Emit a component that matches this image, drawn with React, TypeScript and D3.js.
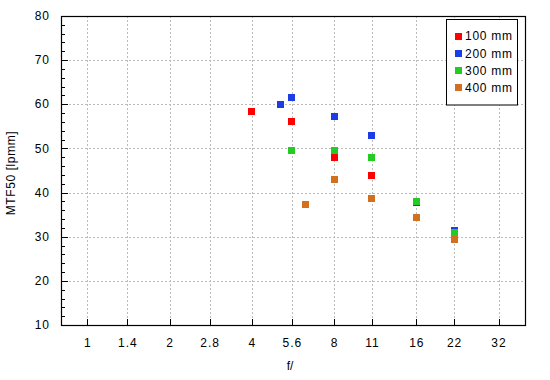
import React from "react";
import * as d3 from "d3";

const xTickValues = [1, 1.4, 2, 2.8, 4, 5.6, 8, 11, 16, 22, 32];
const xTickLabels = ["1", "1.4", "2", "2.8", "4", "5.6", "8", "11", "16", "22", "32"];
const yTicks = [10, 20, 30, 40, 50, 60, 70, 80];

const seriesNames = ["100 mm", "200 mm", "300 mm", "400 mm"];
const seriesColors = ["#ff0000", "#1a3de6", "#22cc22", "#d2701e"];

const apert100 = [4, 5.6, 8, 11];
const mtf100 = [58.4, 56.1, 48.0, 43.9];
const apert200 = [5.1, 5.6, 8, 11, 16, 22];
const mtf200 = [60.0, 61.6, 57.3, 53.0, 37.8, 31.4];
const apert300 = [5.6, 8, 11, 16, 22];
const mtf300 = [49.6, 49.6, 48.0, 38.0, 30.9];
const apert400 = [6.3, 8, 11, 16, 22];
const mtf400 = [37.3, 43.0, 38.7, 34.4, 29.4];

const series = [
  { x: apert100, y: mtf100 },
  { x: apert200, y: mtf200 },
  { x: apert300, y: mtf300 },
  { x: apert400, y: mtf400 },
];

const W = 550;
const H = 380;
const left = 61;
const right = 525;
const top = 16;
const bottom = 325;

export default function App() {
  const x = d3.scaleLog().domain([0.8, 40]).range([left, right]);
  const y = d3.scaleLinear().domain([10, 80]).range([bottom, top]);
  const minor = d3.range(10, 80.001, 2);
  const font = "'Liberation Sans', Arial, sans-serif";
  const sq = 7;
  return (
    <svg width={W} height={H} style={{ position: "absolute", left: 0, top: 0, background: "#fff" }}>
      <rect x={0} y={0} width={W} height={H} fill="#fff" />
      {/* grid */}
      {xTickValues.map((v, i) => (
        <line key={"gx" + i} x1={Math.round(x(v)) + 0.5} x2={Math.round(x(v)) + 0.5} y1={top} y2={bottom}
          stroke="#bbbbbb" strokeDasharray="2,2" />
      ))}
      {yTicks.slice(1, -1).map((v, i) => (
        <line key={"gy" + i} x1={left} x2={right} y1={Math.round(y(v)) + 0.5} y2={Math.round(y(v)) + 0.5}
          stroke="#bbbbbb" strokeDasharray="2,2" />
      ))}
      {/* points */}
      {series.map((s, si) =>
        s.x.map((xv, i) => (
          <rect key={`p${si}-${i}`} x={Math.round(x(xv) - sq / 2)} y={Math.round(y(s.y[i]) - sq / 2)}
            width={sq} height={sq} fill={seriesColors[si]} />
        ))
      )}
      {/* frame */}
      <rect x={left + 0.5} y={top + 0.5} width={right - left} height={bottom - top} fill="none" stroke="#000" strokeWidth={1.2} />
      {/* y ticks */}
      {minor.map((v, i) => {
        const major = Math.abs(v % 10) < 1e-6;
        const yy = Math.round(y(v)) + 0.5;
        return <line key={"yt" + i} x1={left} x2={left + (major ? 7 : 4)} y1={yy} y2={yy} stroke="#000" />;
      })}
      {yTicks.map((v, i) => (
        <text key={"yl" + i} x={50} y={y(v)} dy="0.35em" textAnchor="end" fontFamily={font} fontSize={12}
          letterSpacing={1} fill="#000">
          {v}
        </text>
      ))}
      {/* x ticks */}
      {xTickValues.map((v, i) => {
        const xx = Math.round(x(v)) + 0.5;
        return (
          <g key={"xt" + i}>
            <line x1={xx} x2={xx} y1={bottom} y2={bottom - 6} stroke="#000" />
            <text x={x(v) + 0.5} y={347} textAnchor="middle" fontFamily={font} fontSize={12} letterSpacing={1} fill="#000">
              {xTickLabels[i]}
            </text>
          </g>
        );
      })}
      {/* axis titles */}
      <text x={290} y={370} textAnchor="middle" fontFamily={font} fontSize={12} fill="#000">f/</text>
      <text transform={`translate(15, 173) rotate(-90)`} textAnchor="middle" fontFamily={font} fontSize={12}
        letterSpacing={0.6} fill="#000">
        MTF50 [lpmm]
      </text>
      {/* legend */}
      <rect x={446.5} y={19.5} width={71} height={85.5} fill="#fff" stroke="#000" />
      {seriesNames.map((n, i) => {
        const cy = 36 + i * 17.3;
        return (
          <g key={"lg" + i}>
            <rect x={455} y={Math.round(cy - 3.5)} width={7} height={7} fill={seriesColors[i]} />
            <text x={465} y={cy} dy="0.35em" fontFamily={font} fontSize={12} letterSpacing={0.75} fill="#000">{n}</text>
          </g>
        );
      })}
    </svg>
  );
}
